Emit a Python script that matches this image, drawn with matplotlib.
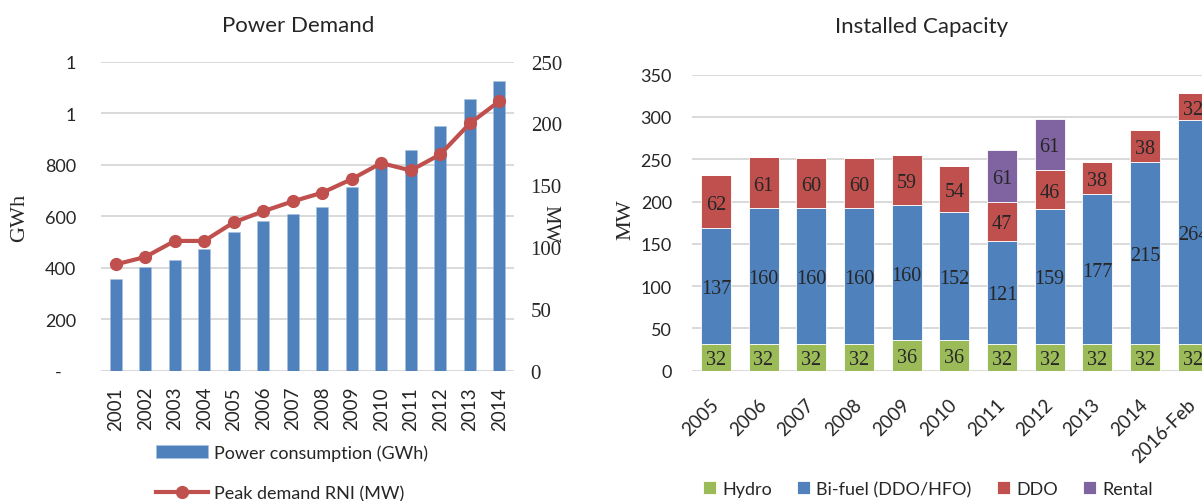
import numpy as np
import matplotlib.pyplot as plt

# Power demand data
years = ['2001', '2002', '2003', '2004', '2005', '2006', '2007',
         '2008', '2009', '2010', '2011', '2012', '2013', '2014']
consumption = [356, 404, 429, 473, 537, 581, 608, 636, 715, 800, 857, 951, 1054, 1126]
peak = [86, 92, 105, 105, 120, 129, 137, 144, 155, 168, 162, 175, 200, 218]
gwh_ticks = [0, 200, 400, 600, 800, 1000, 1200]
gwh_labels = ['-   ', '200', '400', '600', '800', '1', '1']

# Installed capacity data (MW)
cap_years = ['2005', '2006', '2007', '2008', '2009', '2010', '2011',
             '2012', '2013', '2014', '2016-Feb']
hydro = [32, 32, 32, 32, 36, 36, 32, 32, 32, 32, 32]
bifuel = [137, 160, 160, 160, 160, 152, 121, 159, 177, 215, 264]
ddo = [62, 61, 60, 60, 59, 54, 47, 46, 38, 38, 32]
rental = [0, 0, 0, 0, 0, 0, 61, 61, 0, 0, 0]

BLUE = '#4F81BD'
RED = '#C0504D'
GREEN = '#9BBB59'
PURPLE = '#8064A2'
GRID = '#D9D9D9'
TXT = '#262626'
SANS = ['Lato', 'DejaVu Sans']
SERIF = ['Liberation Serif', 'DejaVu Serif']

plt.rcParams['font.family'] = SANS
plt.rcParams['text.color'] = TXT

W, H = 1202, 502
fig = plt.figure(figsize=(W / 100, H / 100), dpi=100)


def box(x0, y0, x1, y1):
    # pixel box (top-left origin) -> figure fraction rect
    return [x0 / W, 1 - y1 / H, (x1 - x0) / W, (y1 - y0) / H]


def clean(ax):
    for s in ax.spines.values():
        s.set_visible(False)
    ax.set_axisbelow(True)
    ax.grid(axis='y', color=GRID, linewidth=1.4)
    ax.tick_params(length=0)


# ---- Power Demand ----
ax = fig.add_axes(box(101, 62.7, 514, 371.7))
clean(ax)
x = np.arange(len(years))
bars = ax.bar(x, consumption, width=0.41, color=BLUE, edgecolor='#A9C1DF', linewidth=0.4,
              label='Power consumption (GWh)')
ax.set_xlim(-0.5, len(years) - 0.5)
ax.set_ylim(0, 1200)
ax.set_yticks(gwh_ticks)
ax.set_yticklabels(gwh_labels, fontsize=13, color=TXT)
ax.tick_params(axis='y', pad=18)
ax.set_xticks(x)
ax.set_xticklabels(years, rotation=90, fontsize=13.5, color=TXT)
ax.tick_params(axis='x', pad=11)

ax2 = ax.twinx()
clean(ax2)
ax2.grid(False)
line, = ax2.plot(x, peak, color=RED, linewidth=3, marker='o', markersize=8.5,
                 label='Peak demand RNI (MW)')
ax2.set_ylim(0, 250)
ax2.set_yticks([0, 50, 100, 150, 200, 250])
ax2.set_yticklabels(['0', '50', '100', '150', '200', '250'],
                    fontsize=15, family=SERIF, color=TXT)
ax2.tick_params(axis='y', pad=12)

fig.text(298 / W, 1 - 26 / H, 'Power Demand', ha='center', va='center', fontsize=16)
fig.text(20 / W, 1 - 218 / H, 'GWh', rotation=90, ha='center', va='center',
         fontsize=16, family=SERIF)
fig.text(550 / W, 1 - 224 / H, 'MW', rotation=270, ha='center', va='center',
         fontsize=15, family=SERIF)

fig.legend([bars, line], ['Power consumption (GWh)', 'Peak demand RNI (MW)'],
           loc='upper left', bbox_to_anchor=(156 / W, 1 - 445 / H), frameon=False,
           fontsize=13, handlelength=2.9, handletextpad=0.33, labelspacing=1.35,
           borderpad=0, borderaxespad=0)

# ---- Installed Capacity ----
bx = fig.add_axes(box(692, 75.7, 1216.7, 371.7))
clean(bx)
xc = np.arange(len(cap_years))
series = [('Hydro', hydro, GREEN), ('Bi-fuel (DDO/HFO)', bifuel, BLUE),
          ('DDO', ddo, RED), ('Rental', rental, PURPLE)]
bottom = np.zeros(len(cap_years))
handles = []
for name, vals, col in series:
    vals = np.array(vals, dtype=float)
    h = bx.bar(xc, vals, bottom=bottom, width=0.63, color=col,
               edgecolor='white', linewidth=0.6, label=name)
    handles.append(h)
    for xi, b, v in zip(xc, bottom, vals):
        if v > 0:
            bx.text(xi, b + v / 2, f'{v:.0f}', ha='center', va='center_baseline',
                    fontsize=14.5, family=SERIF, color=TXT)
    bottom += vals

bx.set_xlim(-0.5, len(cap_years) - 0.5)
bx.set_ylim(0, 350)
bx.set_yticks(np.arange(0, 351, 50))
bx.tick_params(axis='y', labelsize=13, pad=14.5, labelcolor=TXT)
bx.set_xticks(xc)
bx.set_xticklabels(cap_years, rotation=45, ha='right', va='center',
                   rotation_mode='anchor', fontsize=13.5, color=TXT)
bx.tick_params(axis='x', pad=22)

fig.text(922 / W, 1 - 27 / H, 'Installed Capacity', ha='center', va='center', fontsize=16)
fig.text(626 / W, 1 - 220 / H, 'MW', rotation=90, ha='center', va='center',
         fontsize=16, family=SERIF)

fig.legend(handles, [s[0] for s in series], loc='center', ncol=4,
           bbox_to_anchor=(928 / W, 1 - 490 / H), frameon=False, fontsize=13,
           handlelength=0.7, handleheight=0.7, handletextpad=0.35, columnspacing=1.4)

fig.savefig('out.png', dpi=100)
